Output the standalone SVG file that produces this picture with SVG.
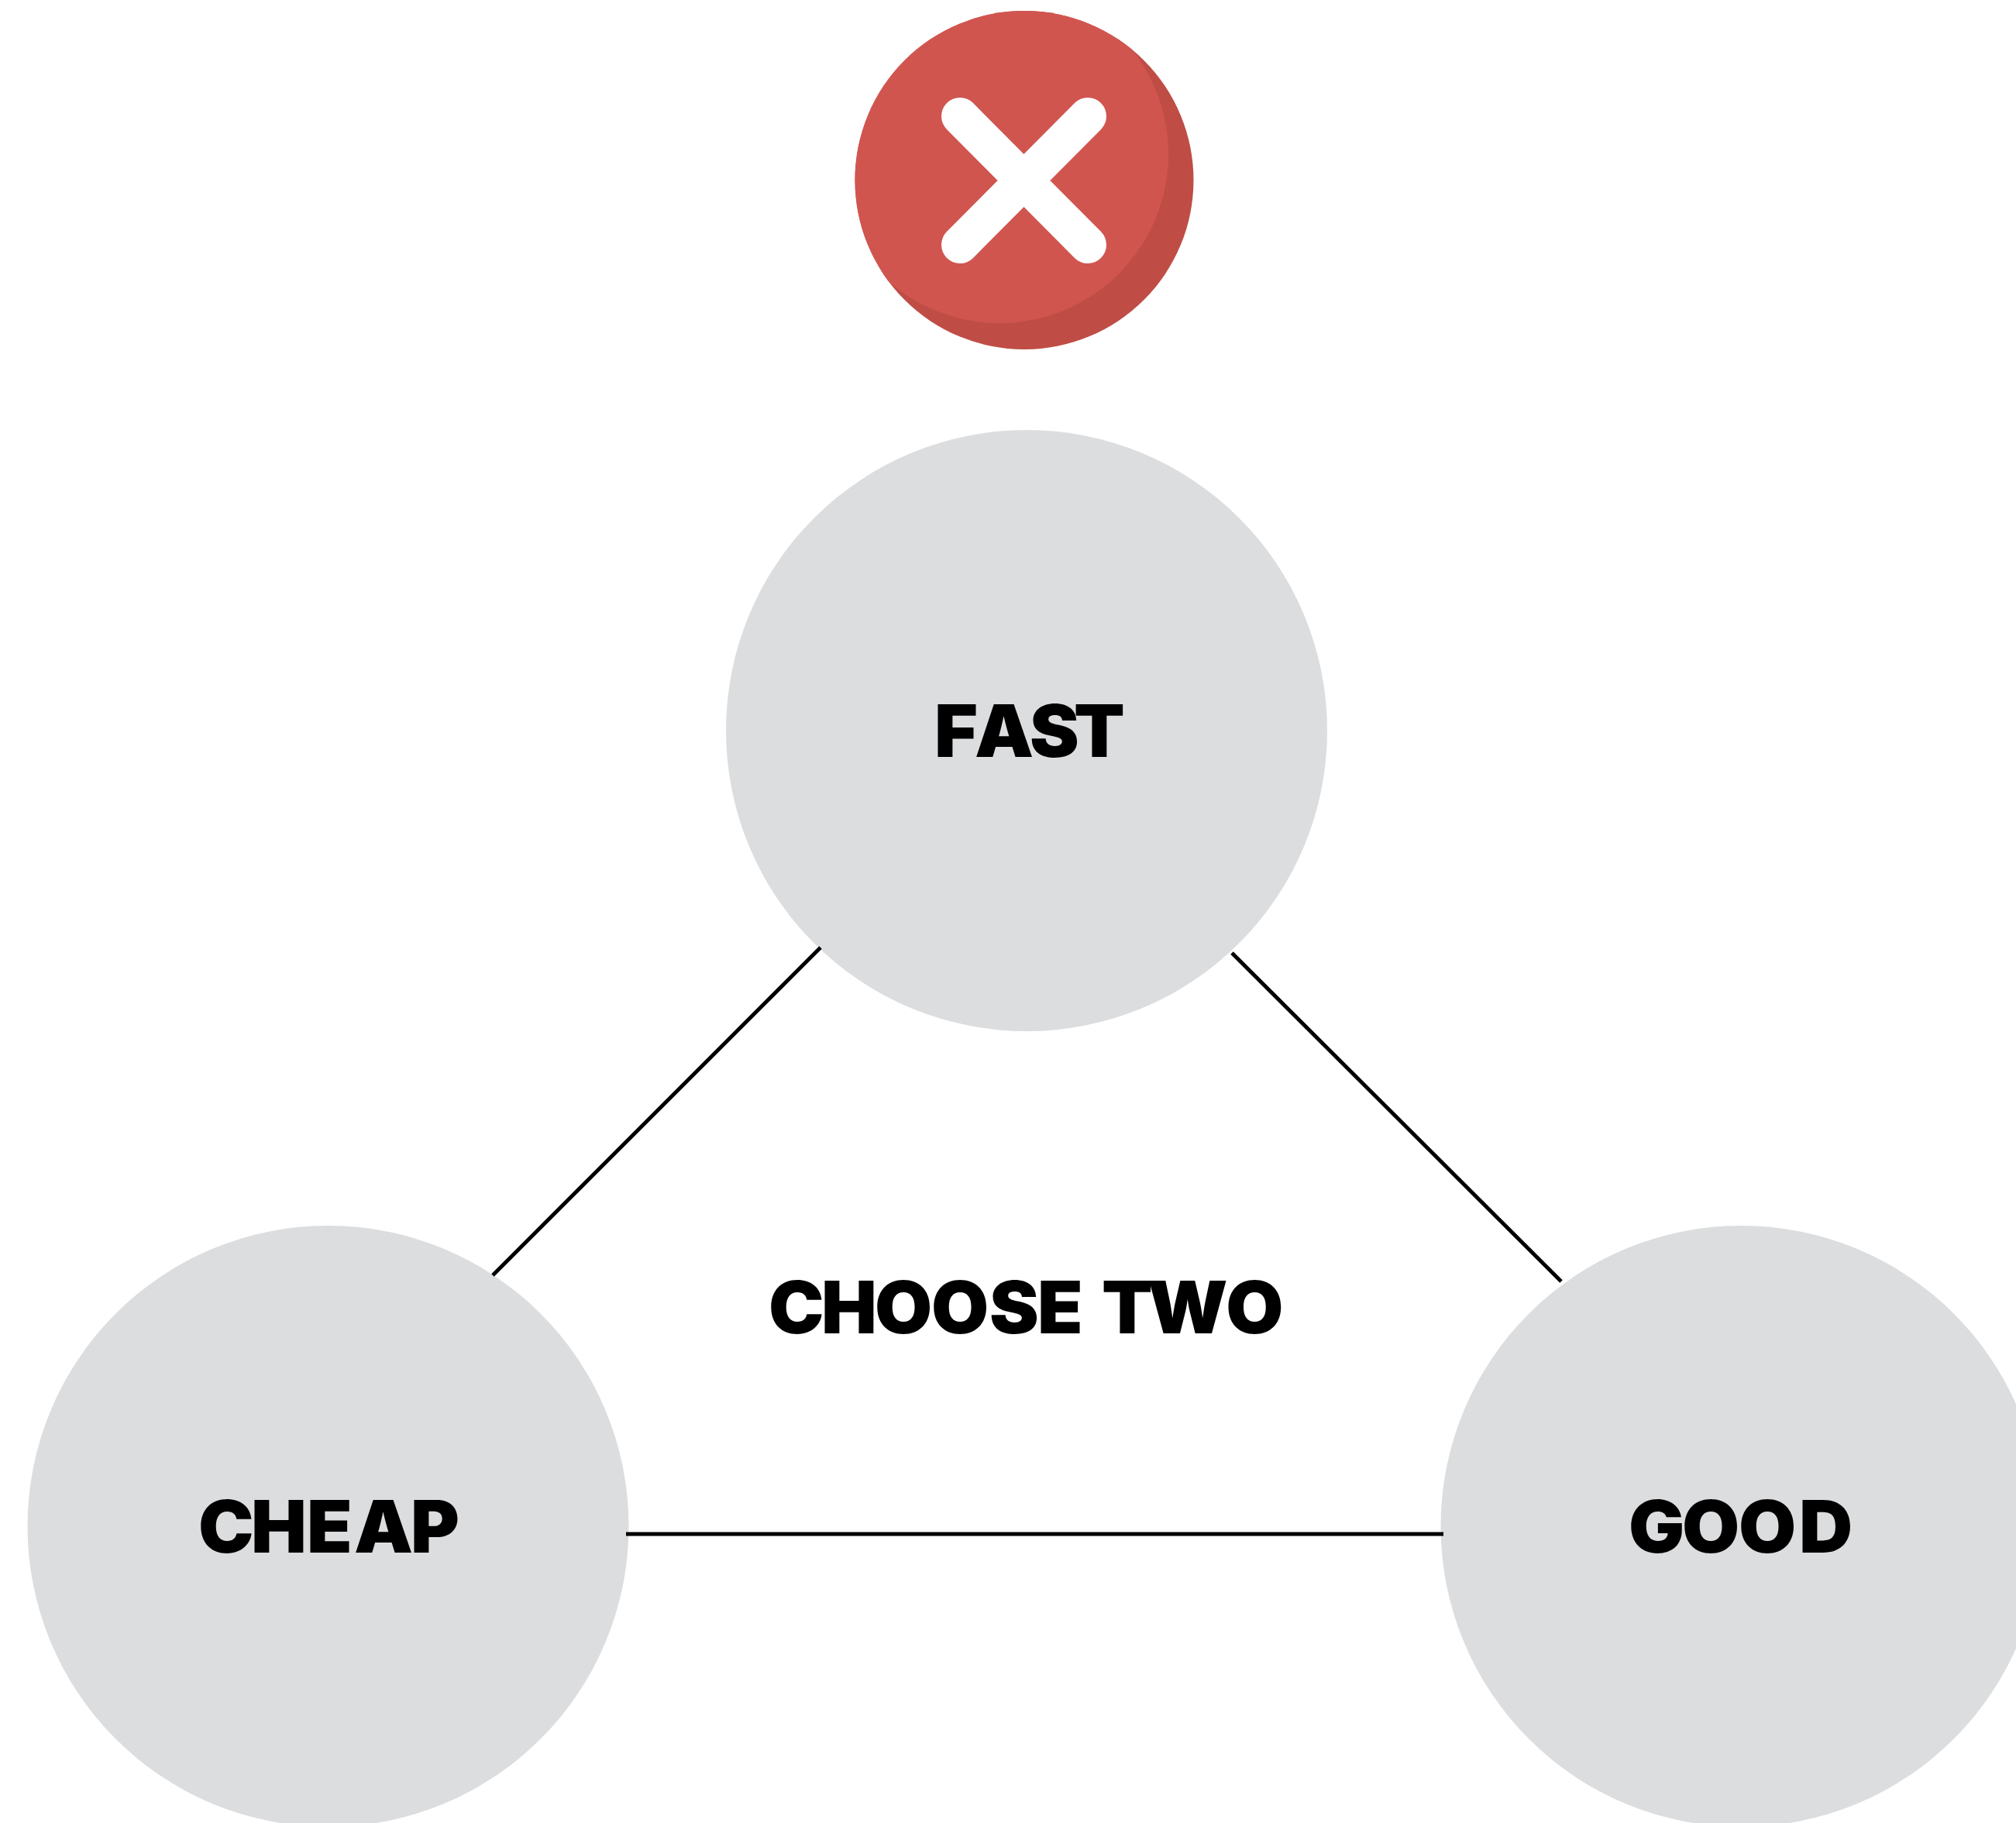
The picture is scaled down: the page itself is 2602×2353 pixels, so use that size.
<svg xmlns="http://www.w3.org/2000/svg" width="2602" height="2353" viewBox="0 0 2602 2353">
<style>
.n{fill:#dcdddf}
.t{font-family:Inter,"Liberation Sans",sans-serif;font-weight:900;font-size:93px;fill:#000}
.c{stroke:#000;stroke-width:5;fill:none}
</style>
<defs><clipPath id="rc"><circle cx="1322" cy="232.500" r="218.500"/></clipPath></defs>
<rect width="2602" height="2353" fill="#fff"/>
<g id="x-badge">
<circle cx="1322" cy="232.500" r="218.500" fill="#bf4d45"/>
<circle cx="1290" cy="199" r="218" fill="#d1554f" clip-path="url(#rc)"/>
<path d="M1239 150L1404 316M1404 150L1239 316" stroke="#fff" stroke-width="48" stroke-linecap="round" fill="none"/>
</g>
<g id="fast"><circle class="n" cx="1325" cy="943" r="388"/>
<text class="t" transform="translate(1206,977) scale(1.03,1)" x="0 50.500 119.400 174.800">FAST</text></g>
<g id="cheap"><circle class="n" cx="423.500" cy="1970" r="388"/>
<text class="t" transform="translate(256,2004) scale(1.03,1)" x="0 66 135.900 195.100 266">CHEAP</text></g>
<g id="good"><circle class="n" cx="2247.500" cy="1970" r="388"/>
<text class="t" transform="translate(2102,2004) scale(1.03,1)" x="0 67 137.900 213.600">GOOD</text></g>
<g id="choose"><text class="t" transform="translate(992,1721) scale(1.03,1)" x="0 66 133 203.900 276.700 336.900 415 417.500 474.800 573">CHOOSE TWO</text></g>
<g id="connectors">
<line class="c" x1="636" y1="1646" x2="1059" y2="1223"/>
<line class="c" x1="1590" y1="1230" x2="2015" y2="1654"/>
<line class="c" x1="808" y1="1980" x2="1863" y2="1980"/>
</g>
</svg>
